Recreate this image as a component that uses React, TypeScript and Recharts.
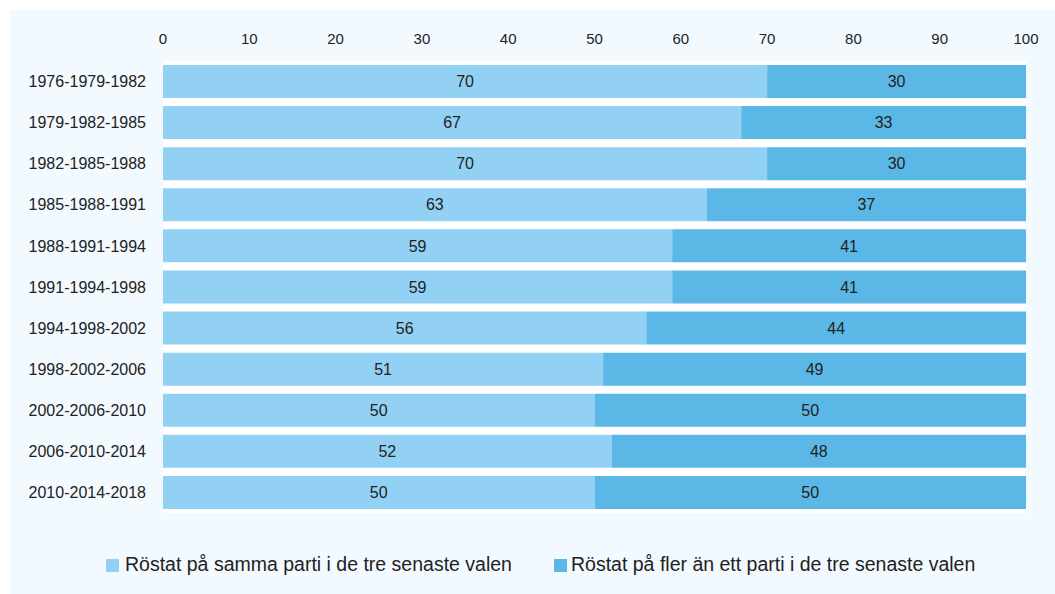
import React from 'react';
import { BarChart, Bar, XAxis, YAxis, CartesianGrid, Legend, LabelList } from 'recharts';

const categories = [
  '1976-1979-1982',
  '1979-1982-1985',
  '1982-1985-1988',
  '1985-1988-1991',
  '1988-1991-1994',
  '1991-1994-1998',
  '1994-1998-2002',
  '1998-2002-2006',
  '2002-2006-2010',
  '2006-2010-2014',
  '2010-2014-2018',
];
const samePartyValues = [70, 67, 70, 63, 59, 59, 56, 51, 50, 52, 50];
const multiPartyValues = [30, 33, 30, 37, 41, 41, 44, 49, 50, 48, 50];
const xTicks = [0, 10, 20, 30, 40, 50, 60, 70, 80, 90, 100];
const seriesNames = [
  'Röstat på samma parti i de tre senaste valen',
  'Röstat på fler än ett parti i de tre senaste valen',
];

const LIGHT = '#92d1f4';
const DARK = '#5bb8e6';
const TEXT = '#222222';
const FONT = "'Liberation Sans', Arial, sans-serif";

const data = categories.map((c, i) => ({
  period: c,
  same: samePartyValues[i],
  multi: multiPartyValues[i],
}));

const LegendContent = () => (
  <div style={{ position: 'relative', height: 30, fontFamily: FONT, fontSize: 19.5, lineHeight: '30px', color: TEXT }}>
    {[
      { name: seriesNames[0], color: LIGHT, left: 0, gap: 6 },
      { name: seriesNames[1], color: DARK, left: 448, gap: 4 },
    ].map((it) => (
      <div key={it.name} style={{ position: 'absolute', left: it.left, top: 0, display: 'flex', alignItems: 'flex-start', whiteSpace: 'nowrap' }}>
        <span style={{ display: 'inline-block', width: 13, height: 13, marginTop: 10, background: it.color, marginRight: it.gap }} />
        <span>{it.name}</span>
      </div>
    ))}
  </div>
);

export default function App() {
  return (
    <div style={{ position: 'absolute', left: 10, top: 10, width: 1045, height: 584, background: '#f3faff', fontFamily: FONT }}>
      <BarChart
        width={1045}
        height={584}
        data={data}
        layout="vertical"
        margin={{ top: 0, right: 29, left: 0, bottom: 81 }}
        barSize={33}
      >
        <CartesianGrid fill="#ffffff" horizontal={false} vertical={false} />
        <XAxis
          type="number"
          orientation="top"
          domain={[0, 100]}
          ticks={xTicks}
          axisLine={false}
          tickLine={false}
          height={51}
          tickMargin={11}
          interval={0}
          tick={{ fill: TEXT, fontSize: 15, fontFamily: FONT }}
        />
        <YAxis
          type="category"
          dataKey="period"
          width={153}
          axisLine={false}
          tickLine={false}
          tickMargin={11}
          interval={0}
          tick={{ fill: TEXT, fontSize: 16, fontFamily: FONT }}
        />
        <Legend
          layout="vertical"
          align="center"
          verticalAlign="middle"
          content={<LegendContent />}
          wrapperStyle={{ position: 'absolute', left: 96, top: 539, width: 900, height: 30 }}
        />
        <Bar dataKey="same" name={seriesNames[0]} stackId="a" fill={LIGHT} isAnimationActive={false}>
          <LabelList dataKey="same" position="center" fill={TEXT} fontSize={16} fontFamily={FONT} />
        </Bar>
        <Bar dataKey="multi" name={seriesNames[1]} stackId="a" fill={DARK} isAnimationActive={false}>
          <LabelList dataKey="multi" position="center" fill={TEXT} fontSize={16} fontFamily={FONT} />
        </Bar>
      </BarChart>
    </div>
  );
}
